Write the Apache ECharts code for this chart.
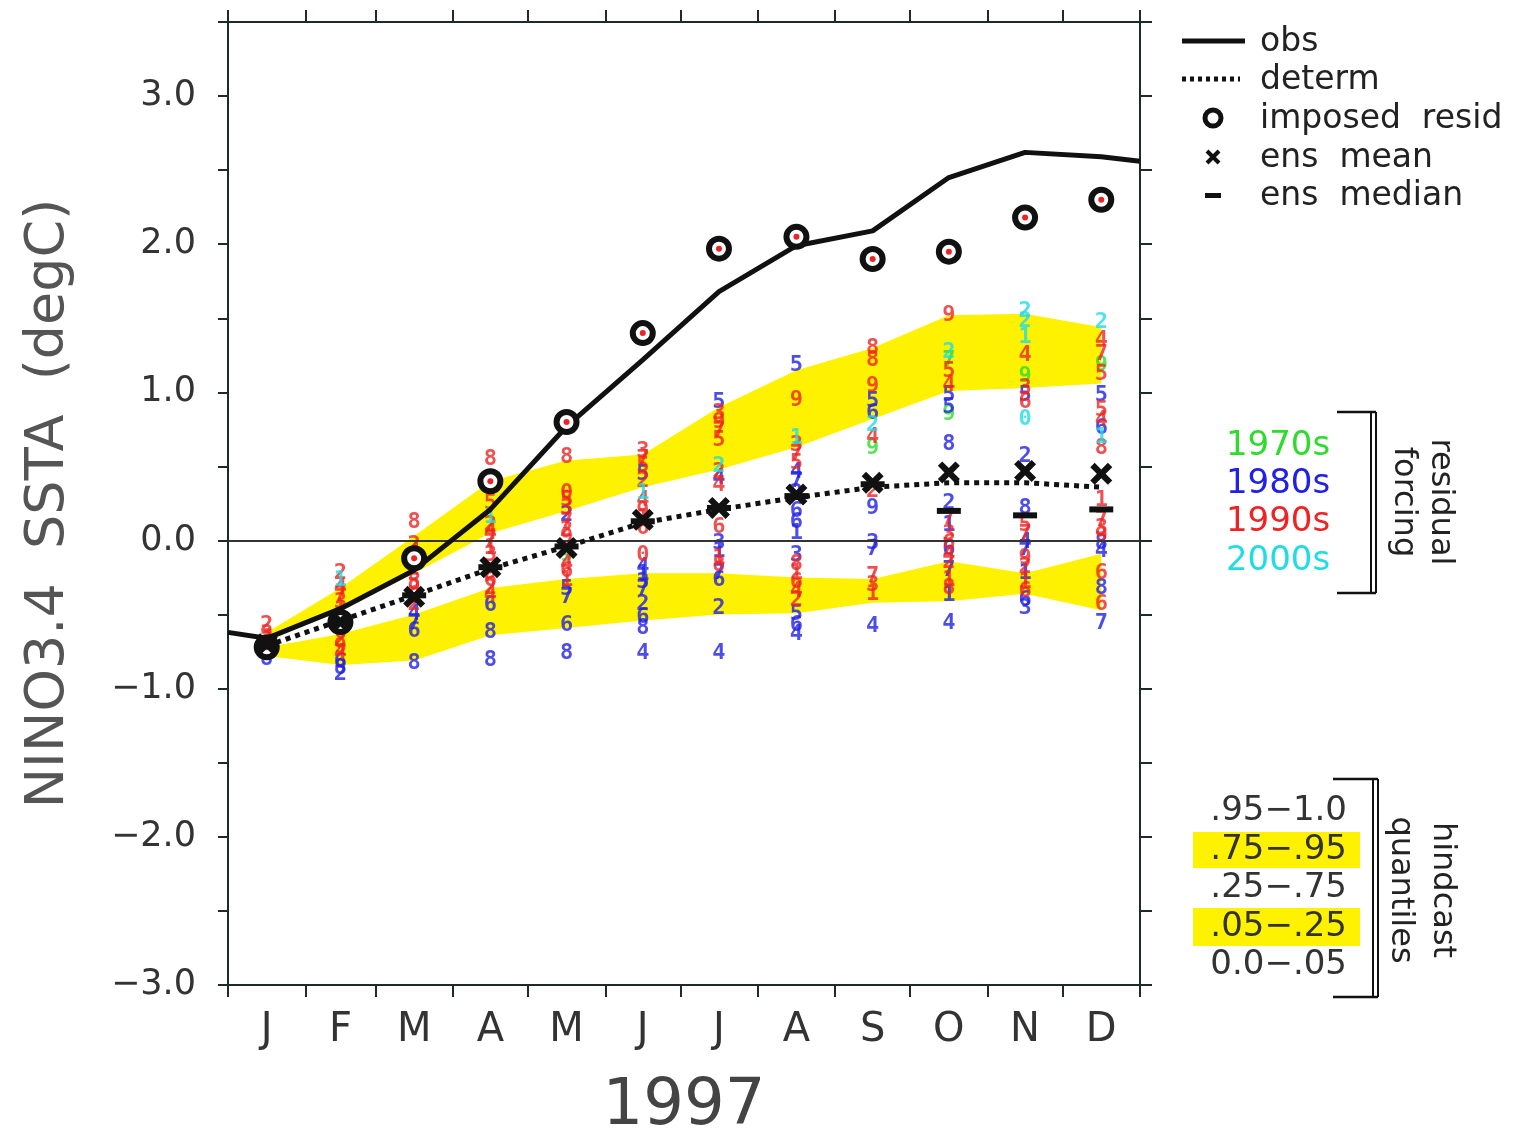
<!DOCTYPE html>
<html>
<head>
<meta charset="utf-8">
<script src="https://cdn.jsdelivr.net/npm/echarts@6/dist/echarts.min.js"></script>
<style>html,body{margin:0;padding:0;background:#fff;}#chart{width:1516px;height:1129px;}</style>
</head>
<body>
<div id="chart"></div>
<script>
// ---------- data ----------
const months = ['J','F','M','A','M','J','J','A','S','O','N','D'];
const monthEdges = [0,31,59,90,120,151,181,212,243,273,304,334,365];
const yTickLabels = [-3,-2,-1,0,1,2,3];

const obsStart = -0.62;   // value at 1 Jan
const obsEnd = 2.56;      // value at 31 Dec
const obs = [-0.66,-0.46,-0.20,0.21,0.77,1.22,1.68,1.99,2.09,2.45,2.62,2.59];
const determ = [-0.71,-0.54,-0.37,-0.19,-0.04,0.12,0.21,0.29,0.36,0.39,0.39,0.36];
const imposedResid = [-0.72,-0.55,-0.12,0.40,0.80,1.40,1.97,2.05,1.90,1.95,2.18,2.30];
const ensMean = [-0.70,-0.55,-0.38,-0.18,-0.05,0.14,0.22,0.31,0.39,0.46,0.47,0.45];
const ensMedian = [-0.71,-0.55,-0.37,-0.18,-0.04,0.13,0.22,0.30,0.38,0.20,0.17,0.21];

const q95 = [-0.62,-0.32,0.03,0.40,0.54,0.58,0.90,1.15,1.30,1.52,1.53,1.44];
const q75 = [-0.68,-0.46,-0.22,0.05,0.20,0.36,0.48,0.63,0.82,1.01,1.03,1.06];
const q25 = [-0.72,-0.63,-0.50,-0.32,-0.26,-0.22,-0.22,-0.25,-0.26,-0.14,-0.22,-0.09];
const q05 = [-0.78,-0.84,-0.81,-0.64,-0.59,-0.54,-0.50,-0.49,-0.42,-0.41,-0.36,-0.47];

// ensemble members: [monthIndex, value, digit]
const members1970s = [[4,-0.10,'9'],[8,0.62,'9'],[9,1.22,'7'],[9,0.85,'9'],[10,1.11,'9'],[11,1.18,'9']];
const members1980s = [
  [0,-0.80,'8'],
  [1,-0.58,'3'],[1,-0.82,'6'],[1,-0.86,'8'],[1,-0.90,'2'],
  [2,-0.50,'4'],[2,-0.56,'7'],[2,-0.61,'6'],[2,-0.83,'8'],
  [3,-0.44,'6'],[3,-0.62,'8'],[3,-0.81,'8'],
  [4,0.17,'2'],[4,-0.33,'5'],[4,-0.38,'7'],[4,-0.57,'6'],[4,-0.76,'8'],
  [5,0.45,'5'],[5,-0.18,'4'],[5,-0.23,'1'],[5,-0.28,'3'],[5,-0.33,'7'],[5,-0.43,'2'],[5,-0.52,'6'],[5,-0.59,'8'],[5,-0.76,'4'],
  [6,0.93,'5'],[6,0.42,'4'],[6,-0.02,'3'],[6,-0.07,'1'],[6,-0.22,'7'],[6,-0.27,'6'],[6,-0.46,'2'],[6,-0.76,'4'],
  [7,1.18,'5'],[7,0.46,'4'],[7,0.40,'7'],[7,0.32,'2'],[7,0.20,'6'],[7,0.12,'6'],[7,0.05,'1'],[7,-0.10,'3'],[7,-0.50,'5'],[7,-0.57,'6'],[7,-0.63,'4'],
  [8,0.94,'5'],[8,0.86,'6'],[8,0.22,'9'],[8,-0.02,'3'],[8,-0.06,'7'],[8,-0.58,'4'],
  [9,0.98,'5'],[9,0.90,'5'],[9,0.65,'8'],[9,0.25,'2'],[9,0.10,'1'],[9,-0.06,'6'],[9,-0.20,'7'],[9,-0.37,'1'],[9,-0.56,'4'],
  [10,0.98,'5'],[10,0.57,'2'],[10,0.22,'8'],[10,-0.01,'4'],[10,-0.06,'7'],[10,-0.22,'1'],[10,-0.40,'6'],[10,-0.46,'3'],
  [11,0.98,'5'],[11,0.76,'6'],[11,-0.02,'8'],[11,-0.07,'4'],[11,-0.32,'8'],[11,-0.56,'7']
];
const members1990s = [
  [0,-0.57,'2'],[0,-0.63,'3'],[0,-0.68,'7'],[0,-0.72,'1'],[0,-0.76,'5'],
  [1,-0.22,'2'],[1,-0.32,'4'],[1,-0.37,'7'],[1,-0.42,'3'],[1,-0.47,'1'],[1,-0.52,'5'],[1,-0.62,'6'],[1,-0.67,'2'],[1,-0.72,'9'],[1,-0.76,'4'],
  [2,0.12,'8'],[2,-0.03,'2'],[2,-0.08,'4'],[2,-0.13,'1'],[2,-0.18,'7'],[2,-0.23,'3'],[2,-0.28,'5'],[2,-0.33,'9'],[2,-0.38,'6'],[2,-0.43,'2'],
  [3,0.55,'8'],[3,0.25,'5'],[3,0.10,'2'],[3,0.05,'4'],[3,0.00,'7'],[3,-0.05,'1'],[3,-0.10,'3'],[3,-0.22,'9'],[3,-0.27,'6'],[3,-0.32,'2'],[3,-0.37,'4'],
  [4,0.56,'8'],[4,0.32,'0'],[4,0.27,'5'],[4,0.22,'3'],[4,0.12,'7'],[4,0.07,'2'],[4,0.02,'9'],[4,-0.16,'4'],[4,-0.21,'6'],[4,-0.27,'1'],
  [5,0.60,'3'],[5,0.55,'7'],[5,0.50,'5'],[5,0.40,'2'],[5,0.27,'4'],[5,0.20,'9'],[5,0.15,'1'],[5,0.08,'6'],[5,-0.10,'0'],
  [6,0.86,'3'],[6,0.80,'9'],[6,0.74,'7'],[6,0.68,'5'],[6,0.46,'2'],[6,0.37,'4'],[6,0.09,'6'],[6,-0.12,'1'],[6,-0.17,'8'],
  [7,0.95,'9'],[7,0.64,'3'],[7,0.58,'7'],[7,0.52,'5'],[7,-0.16,'8'],[7,-0.22,'1'],[7,-0.28,'6'],[7,-0.34,'4'],[7,-0.40,'2'],
  [8,1.30,'8'],[8,1.22,'8'],[8,1.04,'9'],[8,0.70,'4'],[8,0.33,'2'],[8,-0.24,'7'],[8,-0.30,'3'],[8,-0.36,'1'],
  [9,1.52,'9'],[9,1.14,'5'],[9,1.05,'4'],[9,0.15,'7'],[9,0.04,'3'],[9,-0.02,'6'],[9,-0.10,'4'],[9,-0.15,'2'],[9,-0.27,'1'],[9,-0.32,'8'],
  [10,1.25,'4'],[10,1.03,'3'],[10,0.93,'6'],[10,0.10,'5'],[10,0.04,'7'],[10,-0.12,'9'],[10,-0.18,'2'],[10,-0.28,'1'],[10,-0.34,'6'],
  [11,1.35,'4'],[11,1.26,'7'],[11,1.12,'5'],[11,0.88,'5'],[11,0.81,'4'],[11,0.62,'8'],[11,0.27,'1'],[11,0.14,'7'],[11,0.08,'3'],[11,0.03,'9'],[11,-0.22,'6'],[11,-0.43,'6']
];
const members2000s = [[1,-0.27,'1'],[3,0.16,'1'],[5,0.32,'1'],[6,0.50,'2'],[7,0.69,'1'],[8,0.78,'2'],[9,1.27,'2'],
  [10,1.55,'2'],[10,1.48,'2'],[10,1.37,'1'],[10,0.82,'0'],[11,1.47,'2'],[11,0.70,'1']];

// ---------- helpers ----------
const monthCenters = months.map((m, i) => (monthEdges[i] + monthEdges[i + 1]) / 2);
const pts = arr => arr.map((v, i) => [monthCenters[i], v]);
const memberPts = arr => arr.map(d => [monthCenters[d[0]], d[1], d[2]]);
const fmtY = v => (v < 0 ? '\u2212' : '') + Math.abs(v).toFixed(1);

const YELLOW = '#fff200';
const C70 = '#2ddc2d', C80 = '#2020e6', C90 = '#ee2424', C00 = '#20dce6';
const AXC = '#1e2b2b';
const XPATH = 'path://M2,0 L5,3 L8,0 L10,2 L7,5 L10,8 L8,10 L5,7 L2,10 L0,8 L3,5 L0,2 Z';

function digitSeries(name, arr, color) {
  return {
    name: name, type: 'scatter', z: 4,
    data: memberPts(arr), symbol: 'circle', symbolSize: 1,
    itemStyle: { color: 'rgba(0,0,0,0)' },
    label: { show: true, position: 'inside', formatter: p => p.value[2],
      color: color, fontSize: 22, fontWeight: 'bold', fontFamily: 'DejaVu Sans Mono' },
    silent: true
  };
}

function bandSeries(name, low, high) {
  return {
    name: name, type: 'custom', z: 1, silent: true,
    data: low.map((v, i) => [monthCenters[i], v, high[i]]),
    encode: { x: 0, y: [1, 2] },
    renderItem: function (params, api) {
      if (params.dataIndex !== 0) return null;
      const top = high.map((v, i) => api.coord([monthCenters[i], v]));
      const bot = low.map((v, i) => api.coord([monthCenters[i], v])).reverse();
      return { type: 'polygon', shape: { points: top.concat(bot) }, style: { fill: YELLOW } };
    }
  };
}

const txt = (t, x, y, size, color, align, rot) => ({
  type: 'text', x: x, y: y, rotation: rot || 0, z: 10,
  style: { text: t, x: 0, y: 0, fill: color, font: size + 'px "DejaVu Sans"',
    align: align || 'left', textAlign: align || 'left', verticalAlign: 'middle', textVerticalAlign: 'middle' }
});
const ln = (x1, y1, x2, y2, w, dash) => ({ type: 'line', z: 10,
  shape: { x1, y1, x2, y2 }, style: { stroke: '#111', lineWidth: w, lineDash: dash || null } });

const chart = echarts.init(document.getElementById('chart'));
chart.setOption({
  animation: false,
  backgroundColor: '#fff',
  grid: { left: 228, right: 376, top: 22, bottom: 144, outerBoundsMode: 'none', containLabel: false },
  xAxis: [{
    type: 'value', min: 0, max: 365, position: 'bottom',
    axisLine: { onZero: false, lineStyle: { color: AXC, width: 2 } },
    axisTick: { show: true, customValues: monthEdges, length: 12, lineStyle: { color: AXC, width: 2 } },
    axisLabel: { customValues: monthCenters, margin: 26, fontSize: 40, color: '#333', fontFamily: 'DejaVu Sans',
      formatter: v => months[monthCenters.indexOf(v)] || '' },
    splitLine: { show: false },
    name: '1997', nameLocation: 'middle', nameGap: 90,
    nameTextStyle: { fontSize: 64, color: '#444', fontFamily: 'DejaVu Sans' }
  }, {
    type: 'value', min: 0, max: 365, position: 'top',
    axisLine: { onZero: false, lineStyle: { color: AXC, width: 2 } },
    axisTick: { show: true, customValues: monthEdges, length: 12, lineStyle: { color: AXC, width: 2 } },
    axisLabel: { show: false }, splitLine: { show: false }
  }],
  yAxis: [{
    type: 'value', min: -3, max: 3.5, interval: 0.5, position: 'left',
    axisLine: { show: true, onZero: false, lineStyle: { color: AXC, width: 2 } },
    axisTick: { show: true, length: 10, lineStyle: { color: AXC, width: 2 } },
    axisLabel: { margin: 32, fontSize: 35, color: '#333', fontFamily: 'DejaVu Sans',
      formatter: v => yTickLabels.indexOf(v) >= 0 ? fmtY(v) : '' },
    splitLine: { show: false },
    name: 'NINO3.4  SSTA  (degC)', nameLocation: 'middle', nameGap: 152,
    nameTextStyle: { fontSize: 54, color: '#555', fontFamily: 'DejaVu Sans' }
  }, {
    type: 'value', min: -3, max: 3.5, interval: 0.5, position: 'right',
    axisLine: { show: true, onZero: false, lineStyle: { color: AXC, width: 2 } },
    axisTick: { show: true, length: 12, lineStyle: { color: AXC, width: 2 } },
    axisLabel: { show: false }, splitLine: { show: false }
  }],
  series: [
    bandSeries('upper quantile band', q75, q95),
    bandSeries('lower quantile band', q05, q25),
    { name: 'zero', type: 'line', z: 2, data: [], symbol: 'none',
      markLine: { silent: true, symbol: ['none', 'none'], label: { show: false },
        lineStyle: { color: '#333', width: 2, type: 'solid' }, data: [{ yAxis: 0 }] } },
    digitSeries('1970s', members1970s, C70),
    digitSeries('1980s', members1980s, C80),
    digitSeries('1990s', members1990s, C90),
    digitSeries('2000s', members2000s, C00),
    { name: 'obs', type: 'line', z: 5, symbol: 'none',
      data: [[0, obsStart], ...pts(obs), [365, obsEnd]],
      lineStyle: { color: '#111', width: 5 } },
    { name: 'determ', type: 'line', z: 5, symbol: 'none', data: pts(determ),
      lineStyle: { color: '#111', width: 5, type: [5, 5], cap: 'butt' } },
    { name: 'imposed resid', type: 'scatter', z: 6, data: pts(imposedResid), symbol: 'circle', symbolSize: 20,
      itemStyle: { color: '#fff', borderColor: '#111', borderWidth: 6, opacity: 1 } },
    { name: 'imposed resid dot', type: 'scatter', z: 7, data: pts(imposedResid), symbol: 'circle', symbolSize: 6,
      itemStyle: { color: C90, opacity: 1 } },
    { name: 'ens mean', type: 'scatter', z: 7, data: pts(ensMean), symbol: XPATH, symbolSize: 22,
      itemStyle: { color: '#111', opacity: 1 } },
    { name: 'ens median', type: 'scatter', z: 7, data: pts(ensMedian), symbol: 'rect', symbolSize: [24, 6],
      itemStyle: { color: '#111', opacity: 1 } }
  ],
  graphic: [
    ln(1182, 41, 1245, 41, 5), txt('obs', 1260, 42, 33, '#222'),
    ln(1182, 79, 1240, 79, 5, [4, 4]), txt('determ', 1260, 80, 33, '#222'),
    { type: 'circle', z: 10, shape: { cx: 1213, cy: 118, r: 8 }, style: { fill: '#fff', stroke: '#111', lineWidth: 5 } },
    txt('imposed  resid', 1260, 119, 33, '#222'),
    ln(1207, 151, 1219, 163, 4), ln(1207, 163, 1219, 151, 4), txt('ens  mean', 1260, 158, 33, '#222'),
    { type: 'rect', z: 10, shape: { x: 1205, y: 193, width: 16, height: 5 }, style: { fill: '#111' } },
    txt('ens  median', 1260, 196, 33, '#222'),

    txt('1970s', 1278, 446, 34, C70, 'center'),
    txt('1980s', 1278, 484, 34, C80, 'center'),
    txt('1990s', 1278, 522, 34, C90, 'center'),
    txt('2000s', 1278, 561, 34, C00, 'center'),
    ln(1337, 412, 1376, 412, 2.5), ln(1337, 593, 1376, 593, 2.5),
    ln(1371, 412, 1371, 593, 2), ln(1376, 412, 1376, 593, 2),
    txt('residual', 1440, 502, 32, '#222', 'center', -Math.PI / 2),
    txt('forcing', 1403, 502, 32, '#222', 'center', -Math.PI / 2),

    { type: 'rect', z: 9, shape: { x: 1193, y: 832, width: 167, height: 36 }, style: { fill: YELLOW } },
    { type: 'rect', z: 9, shape: { x: 1193, y: 908, width: 167, height: 38 }, style: { fill: YELLOW } },
    txt('.95\u22121.0', 1347, 811, 34, '#333', 'right'),
    txt('.75\u2212.95', 1347, 850, 34, '#333', 'right'),
    txt('.25\u2212.75', 1347, 888, 34, '#333', 'right'),
    txt('.05\u2212.25', 1347, 927, 34, '#333', 'right'),
    txt('0.0\u2212.05', 1347, 965, 34, '#333', 'right'),
    ln(1333, 779, 1378, 779, 2.5), ln(1333, 997, 1378, 997, 2.5),
    ln(1373, 779, 1373, 997, 2), ln(1378, 779, 1378, 997, 2),
    txt('hindcast', 1442, 890, 32, '#222', 'center', -Math.PI / 2),
    txt('quantiles', 1400, 890, 32, '#222', 'center', -Math.PI / 2)
  ]
});
</script>
</body>
</html>
